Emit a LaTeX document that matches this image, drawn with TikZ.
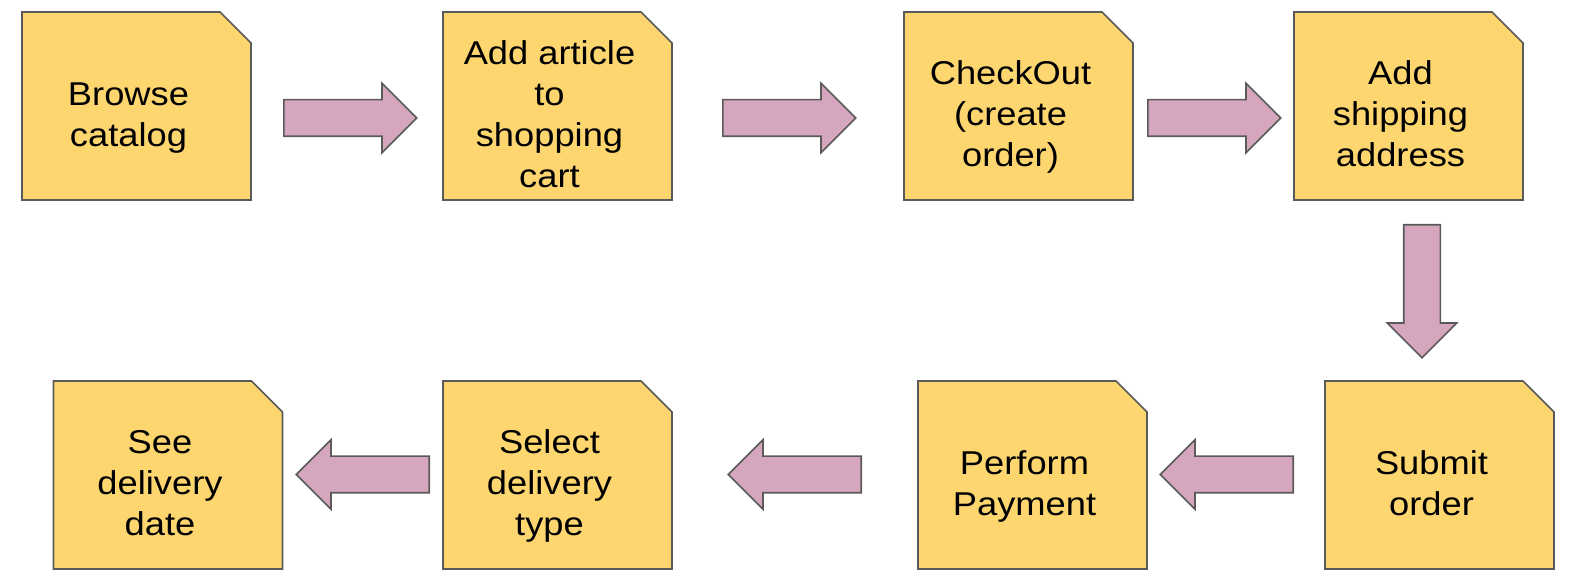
\documentclass[tikz,border=0pt]{standalone}
\usepackage{fontspec}
\setmainfont{Liberation Sans}[FakeStretch=1.1]
\usepackage{tikz}
\usetikzlibrary{shapes.arrows,backgrounds}
\definecolor{noteyellow}{RGB}{253,214,112}
\definecolor{arrowpink}{RGB}{213,166,189}
\definecolor{edgegray}{RGB}{90,90,90}
\newcommand{\topline}{\rule{0pt}{20pt}}
\tikzstyle{task}=[rectangle,minimum width=114.5pt,minimum height=94pt,
  inner sep=0pt,outer sep=0pt,align=center,text depth=0pt,
  font=\fontsize{16.5}{20.5}\selectfont]
\tikzstyle{note}=[draw=edgegray,line width=0.8pt,fill=noteyellow]
\tikzstyle{flow}=[single arrow,draw=edgegray,line width=0.8pt,fill=arrowpink,anchor=tail,
  minimum height=66.5pt,minimum width=0pt,inner xsep=0pt,inner ysep=8.75pt,
  single arrow head extend=8.25pt]

\begin{document}
\begin{tikzpicture}[x=0.5pt,y=-0.5pt]
  \useasboundingbox (0,0) rectangle (1576,582);
  % first row
  \node[task] (browse) at (128.5,106) {\topline Browse\\catalog};
  \node[task] (addcart) at (549.5,106) {\topline Add article\\to\\shopping\\cart};
  \node[task] (checkout) at (1010.5,106) {\topline CheckOut\\(create\\order)};
  \node[task] (shipping) at (1400.5,106) {\topline Add\\shipping\\address};
  % second row
  \node[task] (submit) at (1431.5,475) {\topline Submit\\order};
  \node[task] (payment) at (1024.5,475) {\topline Perform\\Payment};
  \node[task] (deltype) at (549.5,475) {\topline Select\\delivery\\type};
  \node[task] (deldate) at (160,475) {\topline See\\delivery\\date};
  % notes with cut corner, text sits a bit left of the middle
  \begin{scope}[on background layer]
    \foreach \n in {browse,addcart,checkout,shipping,submit,payment,deltype,deldate}
      \draw[note] ([xshift=4pt]\n.south west) -- ([xshift=4pt]\n.north west)
        -- ([xshift=-11.5pt]\n.north east) -- ([xshift=4pt,yshift=-15.5pt]\n.north east)
        -- ([xshift=4pt]\n.south east) -- cycle;
  \end{scope}
  % arrows
  \node[flow] (f1) at (283,118) {};
  \node[flow] (f2) at (722,118) {};
  \node[flow] (f3) at (1147,118) {};
  \node[flow,rotate=-90] (f4) at (1422,224) {};
  \node[flow,shape border rotate=180] (f5) at (1294,474.5) {};
  \node[flow,shape border rotate=180] (f6) at (862,474.5) {};
  \node[flow,shape border rotate=180] (f7) at (430,474.5) {};
\end{tikzpicture}
\end{document}
